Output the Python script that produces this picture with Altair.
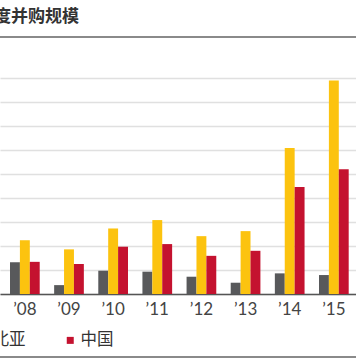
import altair as alt
import pandas as pd

years = ["’08", "’09", "’10", "’11", "’12", "’13", "’14", "’15"]
series = ["东南亚", "北亚", "中国"]
colors = ["#58595b", "#fcc30f", "#c4122f"]
gray_vals = [13.2, 3.7, 9.7, 9.3, 7.2, 4.7, 8.6, 7.9]
yellow_vals = [22.4, 18.6, 27.3, 30.8, 24.1, 26.2, 60.8, 89.0]
red_vals = [13.4, 12.5, 19.7, 20.8, 15.9, 18.0, 44.6, 52.0]
grid_values = [0, 10, 20, 30, 40, 50, 60, 70, 80, 90]

rows = []
for name, vals in zip(series, [gray_vals, yellow_vals, red_vals]):
    for y, v in zip(years, vals):
        rows.append({"year": y, "series": name, "value": v})
df = pd.DataFrame(rows)

FONT = "Noto Sans CJK SC"

bars = alt.Chart(df).mark_bar().encode(
    x=alt.X("year:N", sort=years,
            scale=alt.Scale(paddingInner=0.327, paddingOuter=0.196, align=0.578),
            axis=alt.Axis(title=None, labelAngle=0, labelFontSize=17, labelColor="#444",
                          labelFont="Lato", ticks=False, labelPadding=7,
                          domainColor="#555", domainWidth=1.5)),
    xOffset=alt.XOffset("series:N", sort=series,
                        scale=alt.Scale(paddingInner=0, paddingOuter=0)),
    y=alt.Y("value:Q", scale=alt.Scale(domain=[0, 90], nice=False),
            axis=alt.Axis(title=None, labels=False, ticks=False, domain=False,
                          values=grid_values, gridColor="#e0e0e0", gridWidth=1.5)),
    color=alt.Color("series:N", sort=series,
                    scale=alt.Scale(domain=series, range=colors),
                    legend=alt.Legend(title=None, orient="none", direction="horizontal",
                                      legendX=-130, legendY=254, symbolType="square",
                                      symbolSize=49, symbolStrokeWidth=0,
                                      labelFontSize=16.5, labelColor="#333", labelFont=FONT,
                                      labelOffset=2, columnPadding=36, padding=0)),
)

top_rule = alt.Chart(df).mark_rule(color="#8a8a8a", strokeWidth=2).encode(
    x=alt.value(0), x2=alt.value(356), y=alt.value(-41)
)
bottom_rule = alt.Chart(df).mark_rule(color="#8a8a8a", strokeWidth=1.5).encode(
    x=alt.value(0), x2=alt.value(356), y=alt.value(279)
)

chart = alt.layer(bars, top_rule, bottom_rule).properties(
    width=356, height=216,
    title=alt.TitleParams("度并购规模", anchor="start", frame="group", dx=-6,
                          offset=10, fontSize=17, fontWeight="bold", color="#333",
                          font=FONT),
    autosize=alt.AutoSizeParams(type="none"),
    padding={"left": 0, "top": 78, "right": 0, "bottom": 70},
).configure_view(stroke=None)

chart.save("out.html", embed_options={"renderer": "svg", "actions": False})
